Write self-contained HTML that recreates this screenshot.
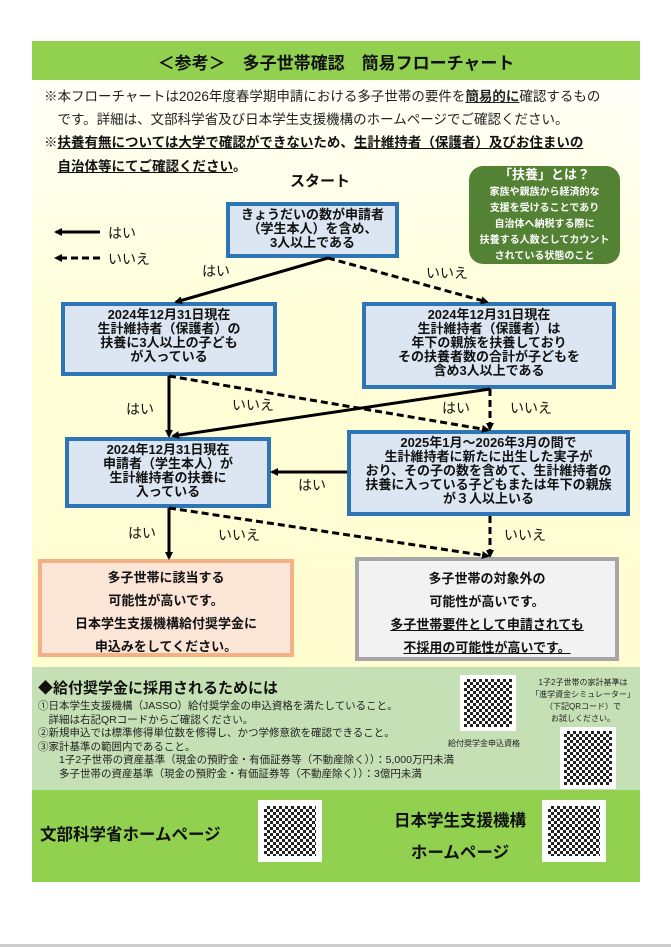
<!DOCTYPE html>
<html><head><meta charset="utf-8"><style>
*{margin:0;padding:0;box-sizing:border-box}
body{width:671px;height:947px;background:#fff;position:relative;overflow:hidden;font-family:"Liberation Sans","Noto Sans CJK JP",sans-serif;color:#111}
.a{position:absolute}
.box{position:absolute;border:4px solid #2e75b6;background:#dce6f2;font-weight:bold;font-size:13px;line-height:14px;text-align:center;padding-top:2px}
u{text-decoration:underline}
</style></head><body>
<div class="a" style="left:32px;top:41px;width:608px;height:39px;background:#92d050"></div>
<div class="a" style="left:32px;top:49px;width:608px;text-align:center;font-size:17px;font-weight:bold">＜参考＞　多子世帯確認　簡易フローチャート</div>
<div class="a" style="left:32px;top:80px;width:608px;height:587px;background:linear-gradient(#fffff8,#fffed8 40%,#fffcd0)"></div>
<div class="a" style="left:44px;top:85px;width:590px;font-size:13.5px;line-height:23px;color:#222">※本フローチャートは2026年度春学期申請における多子世帯の要件を<b><u>簡易的に</u></b>確認するもの<br>　です。詳細は、文部科学省及び日本学生支援機構のホームページでご確認ください。</div>
<div class="a" style="left:44px;top:131px;width:590px;font-size:13.5px;line-height:24px;font-weight:bold">※<u>扶養有無については大学で確認ができない</u>ため、<u>生計維持者（保護者）及びお住まいの</u><br>　<u>自治体等にてご確認ください</u>。</div>
<div class="a" style="left:290px;top:170px;font-size:15px;font-weight:bold">スタート</div>
<div class="a" style="left:469px;top:166px;width:151px;height:98px;background:#548235;border-radius:14px;color:#fff;text-align:center;font-weight:bold;font-size:10px;line-height:16px;padding-top:1px"><span style="font-size:13px">「扶養」とは？</span><br>家族や親族から経済的な<br>支援を受けることであり<br>自治体へ納税する際に<br>扶養する人数としてカウント<br>されている状態のこと</div>
<div class="box" style="left:226px;top:202px;width:173px;height:56px">きょうだいの数が申請者<br>（学生本人）を含め、<br>3人以上である</div>
<div class="box" style="left:61px;top:302px;width:216px;height:74px">2024年12月31日現在<br>生計維持者（保護者）の<br>扶養に3人以上の子ども<br>が入っている</div>
<div class="box" style="left:362px;top:302px;width:254px;height:87px">2024年12月31日現在<br>生計維持者（保護者）は<br>年下の親族を扶養しており<br>その扶養者数の合計が子どもを<br>含め3人以上である</div>
<div class="box" style="left:65px;top:437px;width:206px;height:71px">2024年12月31日現在<br>申請者（学生本人）が<br>生計維持者の扶養に<br>入っている</div>
<div class="box" style="left:347px;top:430px;width:283px;height:86px">2025年1月～2026年3月の間で<br>生計維持者に新たに出生した実子が<br>おり、その子の数を含めて、生計維持者の<br>扶養に入っている子どもまたは年下の親族<br>が３人以上いる</div>
<div class="a" style="left:38px;top:559px;width:256px;height:98px;background:#fbe5d6;border:4px solid #f4b183;text-align:center;font-weight:bold;font-size:13px;line-height:23px;padding-top:3px">多子世帯に該当する<br>可能性が高いです。<br>日本学生支援機構給付奨学金に<br>申込みをしてください。</div>
<div class="a" style="left:355px;top:557px;width:264px;height:104px;background:#f2f2f2;border:4px solid #a6a6a6;text-align:center;font-weight:bold;font-size:13px;line-height:23px;padding-top:6px">多子世帯の対象外の<br>可能性が高いです。<br><u>多子世帯要件として申請されても</u><br><u>不採用の可能性が高いです。</u></div>
<svg class="a" style="left:0;top:0" width="671" height="947">
<defs><marker id="m" markerWidth="8" markerHeight="8" refX="6" refY="4" orient="auto" markerUnits="userSpaceOnUse"><path d="M0,0 L8,4 L0,8 z" fill="#000"/></marker></defs>
<g stroke="#000" stroke-width="3" fill="none">
<line x1="100" y1="232" x2="56" y2="232" marker-end="url(#m)"/>
<line x1="100" y1="258" x2="56" y2="258" stroke-dasharray="7,4" marker-end="url(#m)"/>
<line x1="328" y1="258" x2="176" y2="302" marker-end="url(#m)"/>
<line x1="328" y1="258" x2="487" y2="302" stroke-dasharray="7,4" marker-end="url(#m)"/>
<line x1="169" y1="376" x2="169" y2="436" marker-end="url(#m)"/>
<line x1="169" y1="376" x2="488" y2="430" stroke-dasharray="7,4" marker-end="url(#m)"/>
<line x1="490" y1="389" x2="173" y2="436" marker-end="url(#m)"/>
<line x1="490" y1="389" x2="490" y2="429" stroke-dasharray="7,4" marker-end="url(#m)"/>
<line x1="347" y1="472" x2="272" y2="472" marker-end="url(#m)"/>
<line x1="169" y1="508" x2="169" y2="558" marker-end="url(#m)"/>
<line x1="169" y1="508" x2="488" y2="556" stroke-dasharray="7,4" marker-end="url(#m)"/>
<line x1="490" y1="516" x2="490" y2="556" stroke-dasharray="7,4" marker-end="url(#m)"/>
</g>
<g font-size="14" fill="#111" font-family="Liberation Sans,Noto Sans CJK JP,sans-serif">
<text x="108" y="238">はい</text><text x="108" y="264">いいえ</text>
<text x="202" y="276">はい</text><text x="426" y="278">いいえ</text>
<text x="126" y="414">はい</text><text x="232" y="410">いいえ</text>
<text x="442" y="413">はい</text><text x="510" y="413">いいえ</text>
<text x="298" y="490">はい</text>
<text x="128" y="538">はい</text><text x="218" y="540">いいえ</text><text x="504" y="540">いいえ</text>
</g>
</svg>
<div class="a" style="left:32px;top:667px;width:608px;height:123px;background:#c5e0b4"></div>
<div class="a" style="left:38px;top:677px;font-size:15px;font-weight:bold">◆給付奨学金に採用されるためには</div>
<div class="a" style="left:38px;top:700px;font-size:10.5px;line-height:13.5px;color:#222">①日本学生支援機構（JASSO）給付奨学金の申込資格を満たしていること。<br>　詳細は右記QRコードからご確認ください。<br>②新規申込では標準修得単位数を修得し、かつ学修意欲を確認できること。<br>③家計基準の範囲内であること。<br>　　1子2子世帯の資産基準（現金の預貯金・有価証券等（不動産除く））：5,000万円未満<br>　　多子世帯の資産基準（現金の預貯金・有価証券等（不動産除く））：3億円未満</div>
<div class="a" style="left:460px;top:675px;width:56px;height:56px;background:#fff;padding:4px"><div style="width:100%;height:100%;background:repeating-conic-gradient(#222 0 25%,#fff 0 50%) 0 0/6px 6px"></div></div>
<div class="a" style="left:448px;top:738px;font-size:8px;color:#222">給付奨学金申込資格</div>
<div class="a" style="left:528px;top:677px;width:110px;text-align:center;font-size:8px;line-height:12px;color:#222">1子2子世帯の家計基準は<br>「進学資金シミュレーター」<br>（下記QRコード）で<br>お試しください。</div>
<div class="a" style="left:560px;top:727px;width:56px;height:62px;background:#fff;padding:4px"><div style="width:100%;height:100%;background:repeating-conic-gradient(#222 0 25%,#fff 0 50%) 0 0/6px 6px"></div></div>
<div class="a" style="left:32px;top:790px;width:608px;height:92px;background:#92d050"></div>
<div class="a" style="left:40px;top:821px;font-size:16.5px;font-weight:bold">文部科学省ホームページ</div>
<div class="a" style="left:385px;top:805px;width:150px;text-align:center;font-size:16.5px;font-weight:bold;line-height:32px;white-space:nowrap">日本学生支援機構<br>ホームページ</div>
<div class="a" style="left:258px;top:800px;width:64px;height:62px;background:#fff;padding:6px"><div style="width:100%;height:100%;background:repeating-conic-gradient(#222 0 25%,#fff 0 50%) 0 0/6px 6px"></div></div>
<div class="a" style="left:542px;top:800px;width:64px;height:62px;background:#fff;padding:6px"><div style="width:100%;height:100%;background:repeating-conic-gradient(#222 0 25%,#fff 0 50%) 0 0/6px 6px"></div></div>
<div class="a" style="left:0;top:944px;width:671px;height:3px;background:#ccc"></div>
</body></html>
